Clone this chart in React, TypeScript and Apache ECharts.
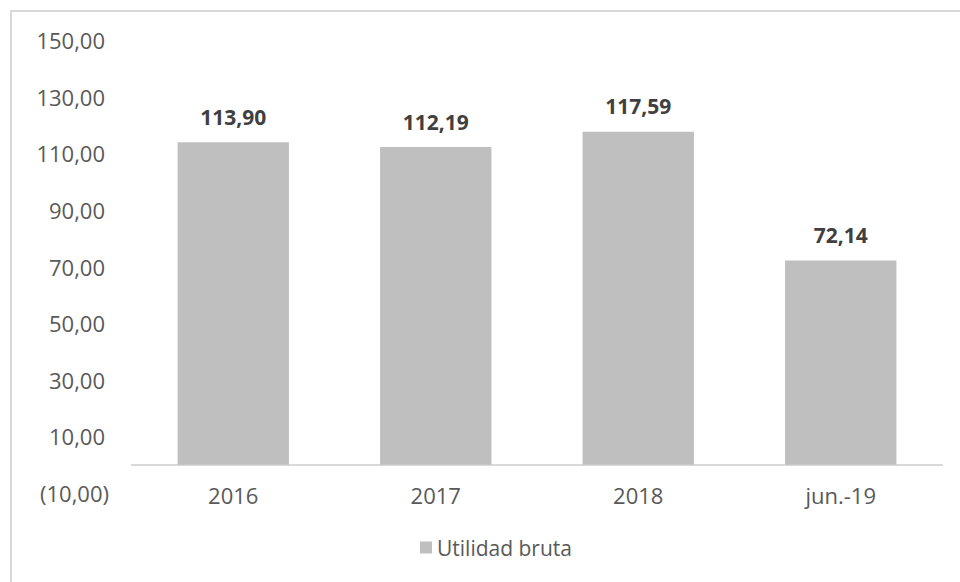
import React, { useEffect, useRef } from "react";
import * as echarts from "echarts";

const categories = ["2016", "2017", "2018", "jun.-19"];
const values = [113.9, 112.19, 117.59, 72.14];
const seriesName = "Utilidad bruta";
const yMin = -10;
const yMax = 150;
const yInterval = 20;

const fmt = (v: number) => {
  const s = Math.abs(v).toFixed(2).replace(".", ",");
  return v < 0 ? `(${s})` : s;
};

export default function App() {
  const ref = useRef<HTMLDivElement>(null);
  useEffect(() => {
    if (!ref.current) return;
    const chart = echarts.init(ref.current, null, { renderer: "svg" });
    const font = "'Open Sans', sans-serif";
    chart.setOption({
      animation: false,
      textStyle: { fontFamily: font },
      graphic: [
        {
          type: "rect",
          shape: { x: 11, y: 11, width: 1200, height: 1200 },
          style: { fill: "none", stroke: "#D9D9D9", lineWidth: 2 },
          silent: true,
        },
      ],
      grid: { left: 132, right: 18, top: 40, bottom: 89, containLabel: false },
      legend: {
        left: 415,
        top: 532,
        itemWidth: 12,
        itemHeight: 12,
        icon: "rect",
        textStyle: { color: "#595959", fontSize: 21, fontFamily: font },
        data: [seriesName],
      },
      xAxis: {
        type: "category",
        data: categories,
        axisLine: { onZero: true, lineStyle: { color: "#D9D9D9", width: 2 } },
        axisTick: { show: false },
        axisLabel: { color: "#595959", fontSize: 22, fontFamily: font, margin: -9 },
      },
      yAxis: {
        type: "value",
        min: yMin,
        max: yMax,
        interval: yInterval,
        splitLine: { show: false },
        axisLine: { show: false },
        axisTick: { show: false },
        axisLabel: {
          color: "#595959",
          fontSize: 22,
          fontFamily: font,
          margin: 23,
          formatter: (v: number) => (v < 0 ? `{n|${fmt(v)}}` : `{p|${fmt(v)}}`),
          rich: {
            p: { color: "#595959", fontSize: 22, fontFamily: font, padding: [0, 4, 0, 0] },
            n: { color: "#595959", fontSize: 22, fontFamily: font },
          },
        },
      },
      series: [
        {
          name: seriesName,
          type: "bar",
          data: values,
          barCategoryGap: "45%",
          itemStyle: { color: "#BFBFBF" },
          label: {
            show: true,
            position: "top",
            distance: 15,
            color: "#404040",
            fontWeight: "bold",
            fontSize: 21,
            fontFamily: font,
            formatter: (p: any) => fmt(p.value),
          },
        },
      ],
    });
    return () => chart.dispose();
  }, []);
  return (
    <div
      ref={ref}
      style={{ position: "fixed", left: 0, top: 0, width: 960, height: 582, background: "#fff" }}
    />
  );
}
